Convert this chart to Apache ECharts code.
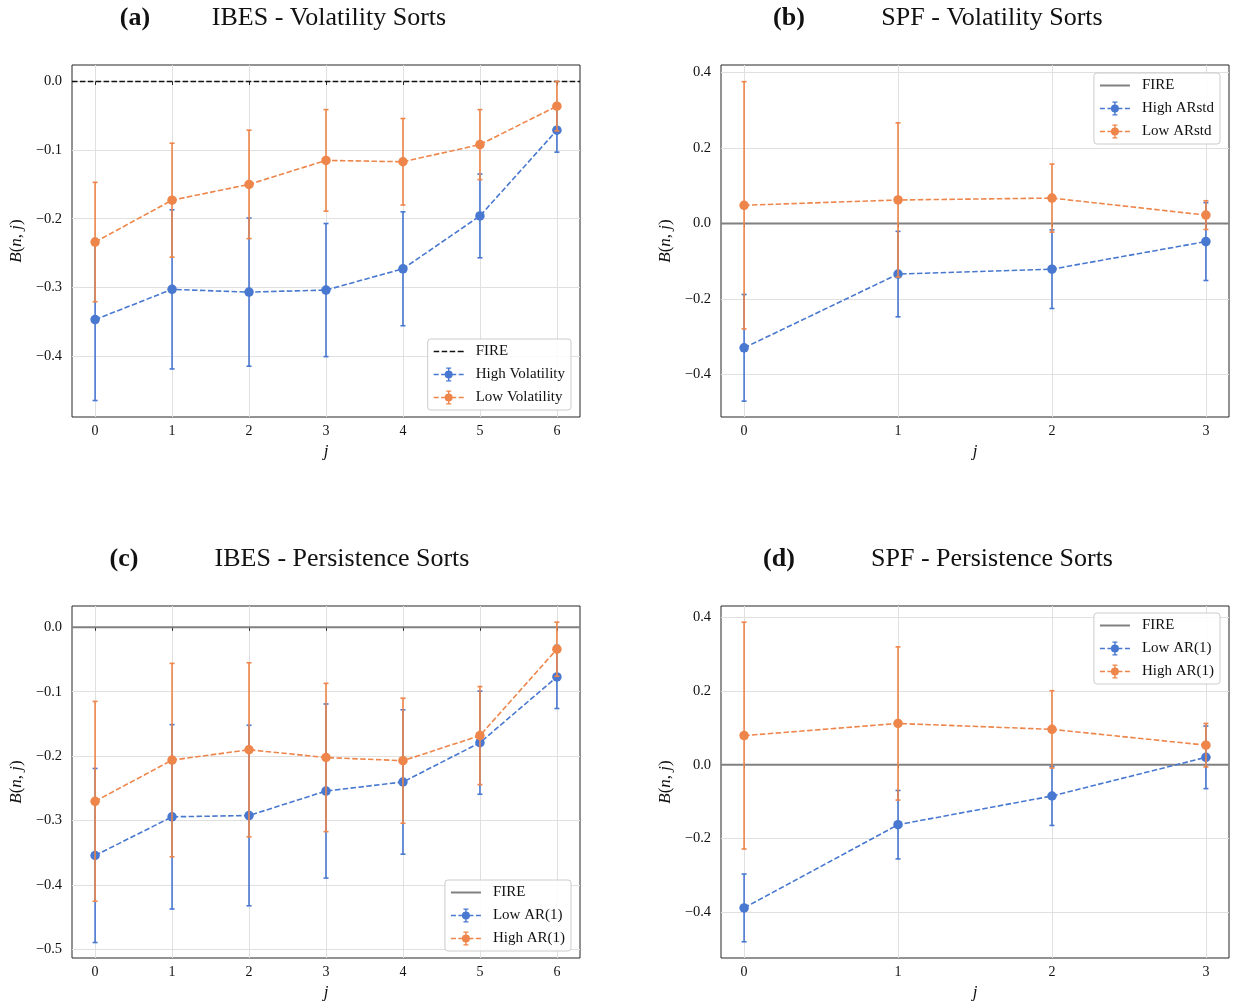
<!DOCTYPE html>
<html>
<head>
<meta charset="utf-8">
<title>B(n, j) sorts</title>
<style>
    body { margin: 0; background: #fff; }
    .panel { position: absolute; width: 584px; height: 462px; }
</style>
</head>
<body>
<div id="pa" class="panel" style="left:0;top:0"></div>
<div id="pb" class="panel" style="left:649px;top:0"></div>
<div id="pc" class="panel" style="left:0;top:541px"></div>
<div id="pd" class="panel" style="left:649px;top:541px"></div>

<script src="https://cdn.jsdelivr.net/npm/echarts@6/dist/echarts.min.js"></script>
<script type="text/javascript">
    // horizons
    var ibesJ = [0, 1, 2, 3, 4, 5, 6];
    var spfJ = [0, 1, 2, 3];

    // (a) IBES - volatility sorts
    var ibesVolHigh    = [-0.347, -0.303, -0.307, -0.304, -0.273, -0.196, -0.071];
    var ibesVolHighErr = [0.118, 0.116, 0.108, 0.097, 0.083, 0.061, 0.032];
    var ibesVolLow     = [-0.234, -0.173, -0.150, -0.115, -0.117, -0.092, -0.036];
    var ibesVolLowErr  = [0.087, 0.083, 0.079, 0.074, 0.063, 0.051, 0.036];

    // (b) SPF - volatility sorts
    var spfVolHigh    = [-0.329, -0.134, -0.121, -0.048];
    var spfVolHighErr = [0.141, 0.113, 0.104, 0.103];
    var spfVolLow     = [0.048, 0.062, 0.067, 0.022];
    var spfVolLowErr  = [0.327, 0.204, 0.090, 0.038];

    // (c) IBES - persistence sorts
    var ibesPerLow     = [-0.354, -0.294, -0.292, -0.254, -0.240, -0.179, -0.077];
    var ibesPerLowErr  = [0.135, 0.143, 0.140, 0.135, 0.112, 0.080, 0.049];
    var ibesPerHigh    = [-0.270, -0.206, -0.190, -0.202, -0.207, -0.168, -0.034];
    var ibesPerHighErr = [0.155, 0.150, 0.135, 0.115, 0.097, 0.076, 0.042];

    // (d) SPF - persistence sorts
    var spfPerLow     = [-0.389, -0.163, -0.085, 0.020];
    var spfPerLowErr  = [0.092, 0.093, 0.080, 0.085];
    var spfPerHigh    = [0.079, 0.112, 0.096, 0.053];
    var spfPerHighErr = [0.308, 0.208, 0.105, 0.059];

    // FIRE benchmark
    var fireLevel = 0;

    // y limits and tick labels
    var yRangeA = [-0.489, 0.024];
    var yRangeB = [-0.512, 0.419];
    var yRangeC = [-0.513, 0.033];
    var yRangeD = [-0.525, 0.431];
    var yTicksIbesA = [-0.4, -0.3, -0.2, -0.1, 0.0];
    var yTicksIbesC = [-0.5, -0.4, -0.3, -0.2, -0.1, 0.0];
    var yTicksSpf = [-0.4, -0.2, 0.0, 0.2, 0.4];

    var SERIF = 'Liberation Serif';
    var BLUE = '#4878d0';
    var ORANGE = '#ee854a';

    var ICON_ERR = 'path://M0 6.3h5v1.4h-5z M7.5 6.3h4v1.4h-4z M18.5 6.3h4v1.4h-4z M25 6.3h5v1.4h-5z ' +
        'M14.3 0h1.4v14h-1.4z M12.5 0h5v1.2h-5z M12.5 12.8h5v1.2h-5z M11 7a4 4 0 1 1 8 0a4 4 0 1 1 -8 0z';
    var ICON_DASH = 'path://M0 0h5.5v1.5h-5.5z M8 0h5.5v1.5h-5.5z M16 0h5.5v1.5h-5.5z M24 0h6v1.5h-6z';
    var ICON_SOLID = 'path://M0 0h30v2h-30z';

    function renderErr(params, api) {
        var x = api.value(0);
        var p1 = api.coord([x, api.value(1)]);
        var p2 = api.coord([x, api.value(2)]);
        var st = { stroke: api.visual('color'), lineWidth: 1.6 };
        return {
            type: 'group',
            children: [
                { type: 'line', shape: { x1: p1[0], y1: p1[1], x2: p2[0], y2: p2[1] }, style: st },
                { type: 'line', shape: { x1: p1[0] - 2.5, y1: p1[1], x2: p1[0] + 2.5, y2: p1[1] }, style: st },
                { type: 'line', shape: { x1: p2[0] - 2.5, y1: p2[1], x2: p2[0] + 2.5, y2: p2[1] }, style: st }
            ]
        };
    }

    function renderFire(dash, color, width) {
        return function (params, api) {
            var cs = params.coordSys;
            var y = api.coord([api.value(0), api.value(1)])[1];
            return {
                type: 'line',
                shape: { x1: cs.x, y1: y, x2: cs.x + cs.width, y2: y },
                style: { stroke: color, lineWidth: width, lineDash: dash }
            };
        };
    }

    function errSeries(name, xs, ys, errs, color, z) {
        return {
            type: 'custom',
            name: name,
            renderItem: renderErr,
            itemStyle: { color: color },
            encode: { x: 0, y: [1, 2] },
            data: xs.map(function (x, i) { return [x, ys[i] - errs[i], ys[i] + errs[i]]; }),
            z: z,
            silent: true
        };
    }

    function lineSeries(xs, ys, color, z) {
        return {
            type: 'line',
            data: xs.map(function (x, i) { return [x, ys[i]]; }),
            symbol: 'circle',
            symbolSize: 9.5,
            showAllSymbol: true,
            lineStyle: { color: color, width: 1.6, type: [5.5, 2.4] },
            itemStyle: { color: color },
            emphasis: { disabled: true },
            z: z,
            silent: true
        };
    }

    function fmtTick(v) {
        return v.toFixed(1).replace('-', '\u2212');
    }

    function makePanel(id, p) {
        var chart = echarts.init(document.getElementById(id));
        var xMax = p.xs[p.xs.length - 1];
        var pad = xMax * 0.05;
        var fireDashed = p.fireDashed;
        var option = {
            animation: false,
            graphic: [
                { type: 'text', x: p.tagX, y: 18, style: { text: p.tag, font: 'bold 26px "' + SERIF + '"', fill: '#111', align: 'center', verticalAlign: 'middle' } },
                { type: 'text', x: p.titleX, y: 18, style: { text: p.title, font: '26px "' + SERIF + '"', fill: '#111', align: 'center', verticalAlign: 'middle' } }
            ],
            grid: {
                left: 72, top: 65, width: 508, height: 352,
                outerBoundsMode: 'none', containLabel: false,
                show: true, borderColor: '#262626', borderWidth: 1
            },
            legend: {
                orient: 'vertical',
                right: 13,
                top: p.legendTop,
                itemWidth: 30,
                itemHeight: 14,
                itemGap: 8,
                padding: [5, 6, 5, 6],
                backgroundColor: 'rgba(255,255,255,0.85)',
                borderColor: '#cccccc',
                borderWidth: 1,
                borderRadius: 3,
                selectedMode: false,
                itemStyle: { borderWidth: 0 },
                textStyle: { fontFamily: SERIF, fontSize: 15, color: '#111', padding: [0, 0, 0, 7] },
                data: [
                    { name: 'FIRE', icon: fireDashed ? ICON_DASH : ICON_SOLID },
                    { name: p.names[0], icon: ICON_ERR },
                    { name: p.names[1], icon: ICON_ERR }
                ]
            },
            xAxis: {
                type: 'value',
                min: -pad,
                max: xMax + pad,
                name: '{i|j}',
                nameLocation: 'middle',
                nameGap: 26,
                nameTextStyle: { rich: { i: { fontFamily: SERIF, fontStyle: 'italic', fontSize: 17, color: '#111' } } },
                axisLine: { show: false },
                axisTick: { show: true, length: 3.5, lineStyle: { color: '#262626' }, customValues: p.xs },
                axisLabel: { fontFamily: SERIF, fontSize: 14, color: '#111', margin: 7, customValues: p.xs },
                splitLine: { show: true, lineStyle: { color: '#e0e0e0', width: 1 } }
            },
            yAxis: {
                type: 'value',
                min: p.yRange[0],
                max: p.yRange[1],
                name: '{i|B}({i|n}, {i|j})',
                nameLocation: 'middle',
                nameGap: 44,
                nameTextStyle: {
                    fontFamily: SERIF, fontSize: 17, color: '#111',
                    rich: { i: { fontFamily: SERIF, fontStyle: 'italic', fontSize: 17, color: '#111' } }
                },
                axisLine: { show: false },
                axisTick: { show: false, customValues: p.yTicks },
                axisLabel: { fontFamily: SERIF, fontSize: 14.5, color: '#111', margin: 10, formatter: fmtTick, customValues: p.yTicks },
                splitLine: { show: true, lineStyle: { color: '#e0e0e0', width: 1 } }
            },
            series: [
                {
                    type: 'custom',
                    name: 'FIRE',
                    renderItem: fireDashed ? renderFire([5.5, 2.4], '#111', 1.5) : renderFire(null, '#808080', 2),
                    itemStyle: { color: fireDashed ? '#111' : '#808080' },
                    encode: { x: 0, y: 1 },
                    data: [[0, fireLevel]],
                    z: 1,
                    silent: true
                },
                errSeries(p.names[0], p.xs, p.y1, p.e1, BLUE, 2),
                lineSeries(p.xs, p.y1, BLUE, 3),
                errSeries(p.names[1], p.xs, p.y2, p.e2, ORANGE, 4),
                lineSeries(p.xs, p.y2, ORANGE, 5)
            ]
        };
        chart.setOption(option);
        return chart;
    }

    makePanel('pa', {
        tag: '(a)', tagX: 135, title: 'IBES - Volatility Sorts', titleX: 329,
        xs: ibesJ, yRange: yRangeA, yTicks: yTicksIbesA, legendTop: 339, fireDashed: true,
        names: ['High Volatility', 'Low Volatility'],
        y1: ibesVolHigh, e1: ibesVolHighErr, y2: ibesVolLow, e2: ibesVolLowErr
    });
    makePanel('pb', {
        tag: '(b)', tagX: 140, title: 'SPF - Volatility Sorts', titleX: 343,
        xs: spfJ, yRange: yRangeB, yTicks: yTicksSpf, legendTop: 73, fireDashed: false,
        names: ['High ARstd', 'Low ARstd'],
        y1: spfVolHigh, e1: spfVolHighErr, y2: spfVolLow, e2: spfVolLowErr
    });
    makePanel('pc', {
        tag: '(c)', tagX: 124, title: 'IBES - Persistence Sorts', titleX: 342,
        xs: ibesJ, yRange: yRangeC, yTicks: yTicksIbesC, legendTop: 339, fireDashed: false,
        names: ['Low AR(1)', 'High AR(1)'],
        y1: ibesPerLow, e1: ibesPerLowErr, y2: ibesPerHigh, e2: ibesPerHighErr
    });
    makePanel('pd', {
        tag: '(d)', tagX: 130, title: 'SPF - Persistence Sorts', titleX: 343,
        xs: spfJ, yRange: yRangeD, yTicks: yTicksSpf, legendTop: 72, fireDashed: false,
        names: ['Low AR(1)', 'High AR(1)'],
        y1: spfPerLow, e1: spfPerLowErr, y2: spfPerHigh, e2: spfPerHighErr
    });
</script>
</body>
</html>
